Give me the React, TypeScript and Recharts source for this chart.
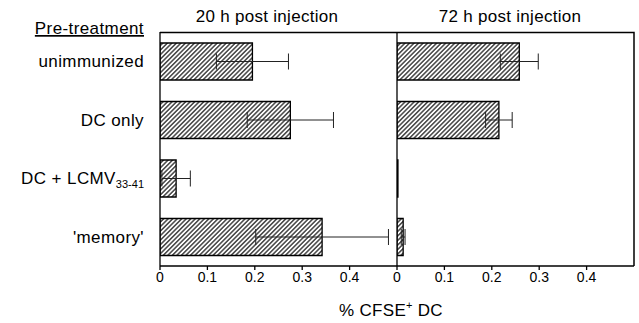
import { BarChart, Bar, XAxis, YAxis, ErrorBar } from "recharts";

// pre-treatment groups (top to bottom)
const groups = ["unimmunized", "DC only", "DC + LCMV", "'memory'"];
const groupSubs = ["", "", "33-41", ""];

// % CFSE+ DC, 20 h post injection
const mean20h = [0.195, 0.275, 0.034, 0.342];
const err20h = [0.076, 0.091, 0.03, 0.14];

// % CFSE+ DC, 72 h post injection
const mean72h = [0.258, 0.215, 0.002, 0.013];
const err72h = [0.04, 0.028, 0, 0.004];

const xTicks = [0, 0.1, 0.2, 0.3, 0.4];

const FONT = "'Liberation Sans', Arial, Helvetica, sans-serif";

const data20 = groups.map((g, i) => ({ group: g, sub: groupSubs[i], value: mean20h[i], err: err20h[i] }));
const data72 = groups.map((g, i) => ({ group: g, sub: groupSubs[i], value: mean72h[i], err: err72h[i] }));

const GroupTick = (props: any) => {
  const { y, index } = props;
  const sub = groupSubs[index];
  return (
    <text x={144} y={y + 6} textAnchor="end" fontSize={17} fill="#000" fontFamily={FONT} letterSpacing={0.4}>
      <tspan>{groups[index]}</tspan>
      {sub ? (
        <tspan fontSize={11} dy={4} letterSpacing={0}>
          {sub}
        </tspan>
      ) : null}
    </text>
  );
};

const axisStroke = { stroke: "#000", strokeWidth: 1.3 };
const tickStyle = { fontSize: 14, fill: "#000", fontFamily: FONT };

const Panel = ({ data, width, showGroups }: { data: any[]; width: number; showGroups: boolean }) => (
  <BarChart
    width={width}
    height={323}
    data={data}
    layout="vertical"
    barSize={37}
    margin={{ top: 32, right: showGroups ? 0 : 5, bottom: 27, left: 0 }}
  >
    <XAxis
      type="number"
      domain={[0, 0.5]}
      ticks={xTicks}
      allowDataOverflow
      axisLine={axisStroke}
      tickLine={axisStroke}
      tickSize={4}
      tick={tickStyle}
      tickFormatter={(v: number) => String(v)}
      height={30}
    />
    <YAxis
      type="category"
      dataKey="group"
      width={showGroups ? 160 : 10}
      axisLine={axisStroke}
      tickLine={false}
      tick={showGroups ? <GroupTick /> : false}
    />
    <Bar dataKey="value" fill="url(#hatch)" stroke="#000" strokeWidth={1.3} isAnimationActive={false}>
      <ErrorBar dataKey="err" direction="x" width={8} stroke="#222" strokeWidth={1} isAnimationActive={false} />
    </Bar>
  </BarChart>
);

export default function App() {
  return (
    <div style={{ position: "absolute", left: 0, top: 0, width: 639, height: 323, background: "#fff" }}>
      <svg width={0} height={0} style={{ position: "absolute" }}>
        <defs>
          <pattern id="hatch" patternUnits="userSpaceOnUse" width={3.2} height={3.2} patternTransform="rotate(45)">
            <rect width={3.2} height={3.2} fill="#fff" />
            <line x1={1.6} y1={0} x2={1.6} y2={3.2} stroke="#000" strokeWidth={1.1} />
          </pattern>
        </defs>
      </svg>
      <div style={{ position: "absolute", left: 0, top: 0 }}>
        <Panel data={data20} width={397} showGroups />
      </div>
      <div style={{ position: "absolute", left: 387, top: 0 }}>
        <Panel data={data72} width={252} showGroups={false} />
      </div>
      <svg width={639} height={323} style={{ position: "absolute", left: 0, top: 0, pointerEvents: "none" }}>
        {/* frame: top edge over both panels, right edge of the 72 h panel */}
        <polyline points="160,32.5 634,32.5 634,266" fill="none" stroke="#000" strokeWidth={1.5} />
        <text x={144} y={34} textAnchor="end" fontSize={17} fontFamily={FONT} letterSpacing={0.4} textDecoration="underline">
          Pre-treatment
        </text>
        <text x={267} y={22} textAnchor="middle" fontSize={17} fontFamily={FONT} letterSpacing={0.3}>
          20 h post injection
        </text>
        <text x={510} y={22} textAnchor="middle" fontSize={17} fontFamily={FONT} letterSpacing={0.3}>
          72 h post injection
        </text>
        <text x={391} y={316} textAnchor="middle" fontSize={17} fontFamily={FONT} letterSpacing={0.3}>
          <tspan>% CFSE</tspan>
          <tspan fontSize={11} dy={-7}>+</tspan>
          <tspan dy={7}> DC</tspan>
        </text>
      </svg>
    </div>
  );
}
